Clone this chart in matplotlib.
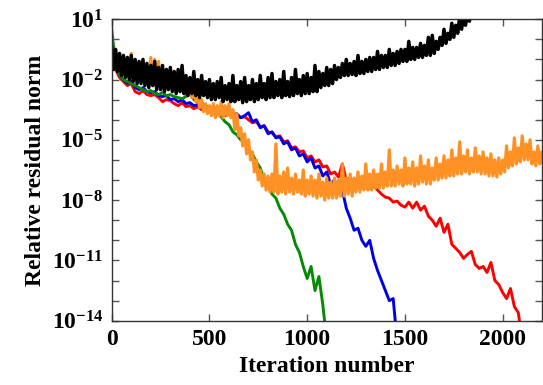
import numpy as np
import matplotlib
matplotlib.use('Agg')
from matplotlib import pyplot as plt
from matplotlib.ticker import FixedLocator, FuncFormatter

plt.rcParams['font.family'] = 'Liberation Serif'
plt.rcParams['font.weight'] = 'bold'
plt.rcParams['mathtext.fontset'] = 'custom'
plt.rcParams['mathtext.rm'] = 'Liberation Serif:bold'
plt.rcParams['mathtext.bf'] = 'Liberation Serif:bold'

# log10 of the relative residual norm, read every 20 iterations
step = 20

red_exp = [-0.5, -1.5, -1.9, -2.1, -2.3, -2.2, -2.6, -2.7, -2.55, -2.75, -2.8, -2.75, -2.9, -3.1, -3.0,
           -3.05, -3.2, -3.3, -3.15, -3.35, -3.3, -3.45, -3.35, -3.5, -3.4, -3.6, -3.5, -3.7, -3.6, -3.8,
           -3.7, -3.85, -3.75, -3.9, -3.85, -4.0, -4.15, -4.1, -4.35, -4.3, -4.6, -4.65, -4.85, -4.8, -5.1,
           -5.05, -5.4, -5.35, -5.6, -5.55, -5.9, -5.8, -6.1, -6.0, -6.35, -6.3, -6.7, -6.6, -6.85, -6.2,
           -7.0, -6.9, -7.15, -7.1, -7.3, -7.2, -7.4, -7.3, -7.5, -7.7, -7.85, -7.9, -8.1, -8.05, -8.25,
           -8.35, -8.1, -8.4, -8.1, -8.5, -8.3, -8.8, -9.0, -9.3, -8.9, -9.6, -9.2, -10.2, -10.4, -10.6,
           -10.9, -10.7, -10.55, -11.2, -11.4, -11.3, -11.6, -11.1, -12.0, -12.2, -12.6, -12.9, -12.4, -13.3,
           -13.6, -15.0]

blue_exp = [-0.6, -1.4, -1.8, -2.0, -2.2, -2.1, -2.4, -2.5, -2.4, -2.6, -2.65, -2.6, -2.8, -2.85, -2.8,
            -3.0, -2.95, -3.1, -3.0, -3.2, -3.15, -3.3, -3.25, -3.4, -3.3, -3.5, -3.45, -3.6, -3.5, -3.65,
            -3.6, -3.75, -3.7, -3.9, -3.8, -3.65, -4.1, -4.0, -4.4, -4.3, -4.7, -4.6, -4.9, -4.85, -5.2,
            -5.1, -5.5, -5.4, -5.8, -5.7, -6.1, -5.9, -6.4, -6.3, -6.8, -6.6, -7.2, -7.0, -7.6, -7.5,
            -8.4, -8.9, -9.5, -9.4, -10.0, -10.3, -10.0, -10.9, -11.5, -12.0, -12.5, -13.0, -12.9, -15.0]

green_exp = [0.5, -1.3, -1.8, -2.0, -2.1, -2.2, -2.3, -2.4, -2.5, -2.6, -2.55, -2.7, -2.75, -2.65, -2.8,
             -2.75, -2.85, -2.9, -2.95, -2.85, -2.4, -3.0, -3.1, -3.15, -3.3, -3.4, -3.55, -3.7, -3.85, -4.1,
             -4.25, -4.6, -4.75, -5.0, -5.1, -5.5, -5.7, -6.1, -6.4, -7.0, -7.3, -7.7, -7.9, -8.4, -8.7,
             -9.2, -9.5, -10.2, -10.6, -11.3, -11.9, -11.3, -12.5, -11.8, -13.2, -15.0]

# orange and black are wide noisy bands: upper values at 0, 20, 40 ...,
# lower values at 10, 30, 50 ...
orange_hi = [-0.8, -0.5, -1.1, -1.0, -1.3, -0.7,
             -1.3, -1.2, -1.5, -1.4, -0.9, -1.0, -1.1, -1.6, -1.7, -1.8,
             -1.9, -2.0, -2.1, -1.9, -2.3, -2.5, -2.8, -3.0, -3.2, -3.3,
             -3.2, -3.3, -3.1, -3.3, -3.2, -3.5, -3.7, -4.4, -4.7, -5.0,
             -5.6, -6.0, -6.5, -6.7, -6.8, -6.7, -5.2, -6.8, -6.6, -6.4,
             -6.9, -6.7, -7.0, -6.5, -7.0, -6.8, -7.0, -6.7, -7.1, -6.9,
             -7.1, -6.9, -7.0, -6.2, -6.9, -6.7, -6.9, -6.6, -6.8, -6.2,
             -6.7, -6.5, -6.7, -6.2, -6.6, -5.5, -6.5, -6.3, -6.5, -5.9,
             -6.4, -6.1, -6.4, -5.8, -6.3, -6.0, -6.4, -5.9, -6.2, -5.8,
             -6.0, -5.5, -5.9, -5.1, -5.8, -5.5, -5.9, -5.4, -5.8, -5.6,
             -5.9, -5.7, -6.0, -5.9, -6.0, -5.3, -5.6, -4.9, -5.4, -4.8,
             -5.2, -5.0, -5.6, -5.3, -5.6]
orange_lo = [-1.4, -1.6, -1.7, -1.8, -1.9, -1.9,
             -2.0, -2.1, -2.2, -2.1, -2.2, -2.3, -2.4, -2.4, -2.5, -2.5,
             -2.6, -2.6, -2.7, -2.8, -2.9, -3.1, -3.4, -3.6, -3.7, -3.8,
             -3.9, -3.8, -3.9, -3.8, -3.9, -4.5, -4.8, -5.3, -5.7, -6.0,
             -6.6, -7.0, -7.3, -7.5, -7.6, -7.6, -7.7, -7.6, -7.7, -7.6,
             -7.7, -7.6, -7.7, -7.8, -7.7, -7.8, -7.9, -7.8, -8.0, -7.9,
             -7.9, -7.9, -7.8, -7.8, -7.7, -7.8, -7.6, -7.6, -7.5, -7.5,
             -7.5, -7.4, -7.4, -7.4, -7.3, -7.3, -7.3, -7.2, -7.3, -7.2,
             -7.2, -7.3, -7.2, -7.1, -7.2, -7.2, -7.0, -7.0, -6.9, -6.9,
             -6.8, -6.8, -6.7, -6.7, -6.6, -6.7, -6.6, -6.6, -6.7, -6.7,
             -6.8, -6.8, -6.85, -6.7, -6.6, -6.4, -6.3, -6.2, -6.1, -6.0,
             -6.0, -6.2, -6.3, -6.2, -6.3]

black_hi = [-0.4, -0.5, -0.7,
            -0.8, -0.9, -0.8, -1.0, -1.1,
            -1.0, -1.2, -1.3, -1.1, -1.4, -1.3, -1.5, -1.4, -1.6,
            -1.5, -1.3, -1.8, -1.9, -1.6, -2.0, -1.8, -2.1, -2.0,
            -2.2, -2.1, -1.9, -2.3, -2.2, -1.8, -2.3, -2.1, -1.9, -2.3, -2.0, -2.2, -1.8,
            -2.2, -1.9, -1.7, -2.1, -2.0, -1.6, -2.1, -1.9, -1.5, -2.0, -1.8, -1.7,
            -1.9, -1.3, -1.6, -1.7, -1.4, -1.5, -1.3, -1.4,
            -1.2, -1.0, -1.2, -1.1, -0.8, -1.1, -1.0, -0.9,
            -0.9, -0.6, -0.8, -0.8, -0.5, -0.7, -0.6, -0.5,
            -0.5, -0.1, -0.4, -0.4, -0.2, -0.3, 0.1, 0.2,
            -0.1, 0.1, 0.5, 0.3, 0.8, 0.7, 1.1, 1.2, 1.3, 1.4]
black_lo = [-1.5, -1.6, -1.8,
            -1.9, -2.0, -2.1, -2.2, -2.2,
            -2.3, -2.4, -2.3, -2.5, -2.5, -2.6, -2.5, -2.6, -2.7,
            -2.6, -2.7, -2.8, -2.7, -2.8, -2.9, -2.8, -2.9, -3.0,
            -3.0, -2.9, -3.1, -3.0, -3.1, -3.1, -3.0, -3.15, -3.1, -3.0, -3.1, -3.0, -2.9,
            -3.0, -2.9, -2.9, -2.8, -2.9, -2.8, -2.85, -2.8, -2.7, -2.8, -2.7, -2.7,
            -2.6, -2.6, -2.4, -2.3, -2.3, -2.2, -2.0, -1.9,
            -1.8, -1.8, -1.75, -1.8, -1.7, -1.7, -1.6, -1.6,
            -1.5, -1.5, -1.4, -1.4, -1.3, -1.3, -1.2, -1.1,
            -1.1, -1.0, -1.0, -0.9, -0.9, -0.8, -0.8, -0.7,
            -0.5, -0.3, -0.2, 0.0, 0.1, 0.3, 0.5, 0.7, 0.9, 1.1]


def band(hi, lo):
    # alternate between the upper and lower readings
    it = np.empty(2 * len(hi))
    v = np.empty(2 * len(hi))
    it[0::2] = np.arange(len(hi)) * step
    it[1::2] = np.arange(len(lo)) * step + step / 2
    v[0::2] = hi
    v[1::2] = lo
    return it, v


fig = plt.figure(figsize=(5.43, 3.85), dpi=100)
ax = fig.add_axes([0.2057, 0.167, 0.792, 0.783])

for vals, col in [(red_exp, '#ff0000'), (blue_exp, '#0000e6'), (green_exp, '#058a05')]:
    it = np.arange(len(vals)) * step
    ax.semilogy(it, 10.0 ** np.array(vals), color=col, linewidth=2.1)

for hi, lo, col, lw in [(orange_hi, orange_lo, '#ff9124', 2.3), (black_hi, black_lo, '#000000', 2.5)]:
    it, v = band(hi, lo)
    ax.semilogy(it, 10.0 ** v, color=col, linewidth=lw)

ax.set_xlim(0, 2200)
ax.set_ylim(1e-14, 1e1)

ax.xaxis.set_major_locator(FixedLocator([0, 500, 1000, 1500, 2000]))
ax.yaxis.set_major_locator(FixedLocator([10.0 ** k for k in range(-14, 2)]))
ax.yaxis.set_minor_locator(FixedLocator([]))


def ylab(v, pos):
    k = int(round(np.log10(v)))
    if (k + 14) % 3 == 0:
        return r'$\mathbf{10^{%d}}$' % k
    return ''


ax.yaxis.set_major_formatter(FuncFormatter(ylab))
ax.tick_params(axis='both', which='major', direction='in', length=5, width=1,
               color='#555555', labelsize=17, top=True, right=True, pad=6)
for lab in ax.get_xticklabels():
    lab.set_fontweight('bold')

for sp in ax.spines.values():
    sp.set_color('#333333')
    sp.set_linewidth(1)

ax.set_xlabel('Iteration number', fontsize=17, fontweight='bold', labelpad=4)
ax.set_ylabel('Relative residual norm', fontsize=17, fontweight='bold', labelpad=4)

fig.savefig('out.png', dpi=100)
